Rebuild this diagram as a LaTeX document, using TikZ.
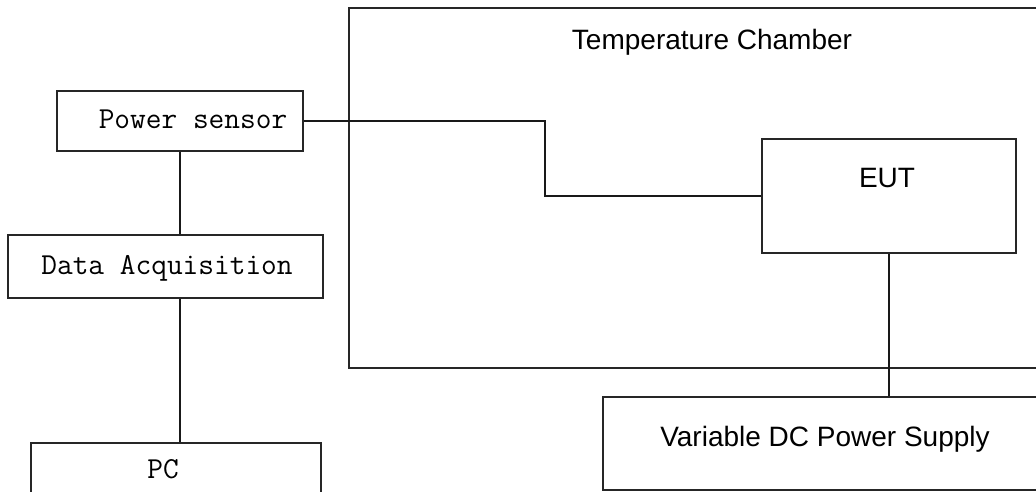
\documentclass[tikz,border=0pt]{standalone}
\usepackage{fontspec}
\newfontfamily\sansf{Liberation Sans}
\begin{document}
\begin{tikzpicture}[x=1pt,y=-1pt,
  box/.style={draw=black!85,line width=2pt,rectangle,inner sep=0pt},
  wire/.style={draw=black!90,line width=2pt},
  monotext/.style={inner sep=0pt,font=\ttfamily\fontsize{30.5}{32}\selectfont},
  sanstext/.style={inner sep=0pt,font=\sansf\fontsize{28}{32}\selectfont}]
\useasboundingbox (0,0) rectangle (1036,492);
\clip (0,0) rectangle (1036,492);
% chamber
\node[box,minimum width=696pt,minimum height=360pt] (ch) at (697,188) {};
\node[sanstext] (chtitle) at (712,42) {Temperature Chamber};
% left chain
\node[box,minimum width=246pt,minimum height=60pt] (ps) at (180,121) {};
\node[monotext] (pstext) at (193,119) {Power sensor};
\node[box,minimum width=315pt,minimum height=63pt] (da) at (165.5,266.5) {};
\node[monotext] (datext) at (167,268) {Data Acquisition};
\node[box,minimum width=290pt,minimum height=60pt] (pc) at (176,473) {};
\node[monotext] (pctext) at (163,469) {PC};
% EUT and supply
\node[box,minimum width=254pt,minimum height=114pt] (eut) at (889,196) {};
\node[sanstext] (euttext) at (887,178) {EUT};
\node[box,minimum width=442pt,minimum height=93pt] (sup) at (824,443.5) {};
\node[sanstext] (suptext) at (825,439) {Variable DC Power Supply};
% connectors
\coordinate (bend) at (545,160);
\draw[wire] (ps.east) -| (bend) |- (eut.west);
\draw[wire] (ps.south) -- (ps.south |- da.north);
\draw[wire] (ps.south |- da.south) -- (ps.south |- pc.north);
\draw[wire] (eut.south) -- (eut.south |- sup.north);
\end{tikzpicture}
\end{document}
